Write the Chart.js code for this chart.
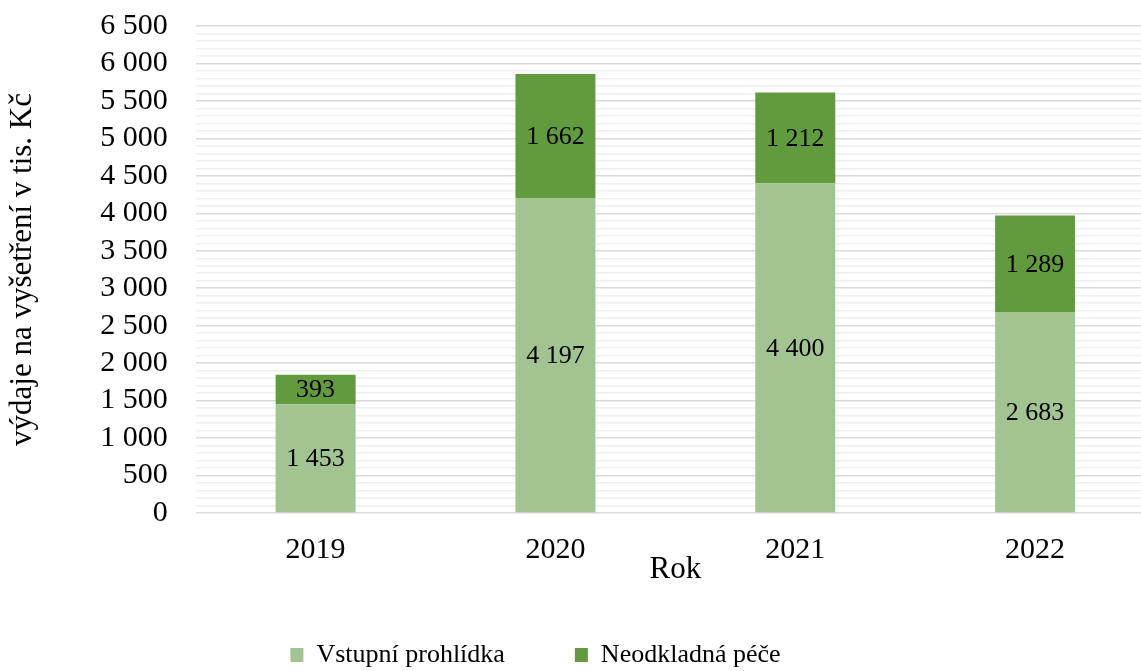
<!DOCTYPE html>
<html>
<head>
<meta charset="utf-8">
<script src="https://cdn.jsdelivr.net/npm/chart.js@4/dist/chart.umd.min.js"></script>
<style>
html,body{margin:0;padding:0;overflow:hidden;background:#fff;}
#wrap{width:1155px;height:671px;}
</style>
</head>
<body>
<div id="wrap"><canvas id="c" width="1155" height="671"></canvas></div>
<script>
const categories = ['2019', '2020', '2021', '2022'];
const vstupni = [1453, 4197, 4400, 2683];
const neodkladna = [393, 1662, 1212, 1289];
const seriesNames = ['Vstupní prohlídka', 'Neodkladná péče'];
const yTitle = 'výdaje na vyšetření v tis. Kč';
const xTitle = 'Rok';
const yMax = 6500;
const yMajorStep = 500;
const yMinorStep = 100;

const FONT = "'Liberation Serif', 'Times New Roman', serif";
function fmt(v){ return String(Math.round(v)).replace(/\B(?=(\d{3})+(?!\d))/g, ' '); }

const barLabels = {
  id: 'barLabels',
  afterDatasetsDraw(chart){
    const ctx = chart.ctx;
    ctx.save();
    ctx.font = '26px ' + FONT;
    ctx.fillStyle = '#000';
    ctx.textAlign = 'center';
    ctx.textBaseline = 'middle';
    chart.data.datasets.forEach((ds, di) => {
      const meta = chart.getDatasetMeta(di);
      meta.data.forEach((el, i) => {
        const y = (el.y + el.base) / 2;
        ctx.fillText(fmt(ds.data[i]), el.x, y + 1);
      });
    });
    ctx.restore();
  }
};

const shiftLegend = {
  id: 'shiftLegend',
  afterLayout(chart){
    const lg = chart.legend;
    if (lg) { lg.left -= 42; lg.right -= 42; }
  }
};

new Chart(document.getElementById('c'), {
  type: 'bar',
  data: {
    labels: categories,
    datasets: [
      { label: seriesNames[0], data: vstupni, backgroundColor: '#a2c490', borderWidth: 0 },
      { label: seriesNames[1], data: neodkladna, backgroundColor: '#629a3e', borderWidth: 0 }
    ]
  },
  options: {
    responsive: false,
    animation: false,
    devicePixelRatio: 1,
    categoryPercentage: 1,
    barPercentage: 1/3,
    layout: { padding: { top: 26, left: 0, right: 0, bottom: -7 } },
    plugins: {
      tooltip: { enabled: false },
      legend: {
        position: 'bottom',
        labels: {
          font: { family: FONT, size: 26 },
          color: '#000',
          boxWidth: 13,
          boxHeight: 14,
          padding: 70
        }
      }
    },
    scales: {
      x: {
        stacked: true,
        grid: { display: false, drawTicks: false },
        border: { display: false },
        ticks: { font: { family: FONT, size: 30 }, color: '#000', padding: 19 },
        title: { display: true, text: xTitle, font: { family: FONT, size: 31 }, color: '#000', padding: { top: -35.6, bottom: -16.6 } }
      },
      y: {
        stacked: true,
        min: 0,
        max: yMax,
        border: { display: false },
        afterFit: (scale) => { scale.paddingTop = 0; scale.paddingBottom = 0; },
        grid: {
          drawTicks: false,
          lineWidth: 1.5,
          color: (c) => (c.tick && c.tick.value % yMajorStep === 0) ? '#d9d9d9' : '#f0f0f0'
        },
        ticks: {
          stepSize: yMinorStep,
          autoSkip: false,
          font: { family: FONT, size: 30 },
          color: '#000',
          padding: 28,
          callback: (v) => (v % yMajorStep === 0) ? fmt(v) : ''
        },
        title: { display: true, text: yTitle, font: { family: FONT, size: 31 }, color: '#000', padding: { top: 4, bottom: 31 } }
      }
    }
  },
  plugins: [barLabels, shiftLegend]
});
</script>
</body>
</html>
